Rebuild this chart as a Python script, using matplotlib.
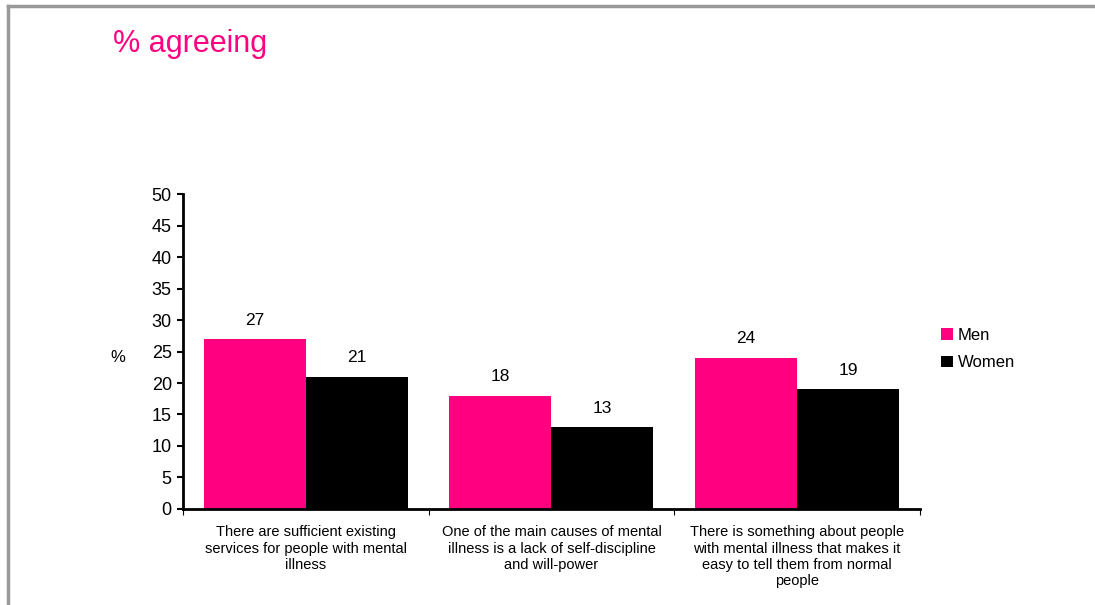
import matplotlib
matplotlib.use("Agg")
import matplotlib.pyplot as plt
from matplotlib.lines import Line2D
from matplotlib.patches import Patch
import numpy as np

plt.rcParams['font.family'] = ['Liberation Sans', 'DejaVu Sans']

categories = [
    "There are sufficient existing\nservices for people with mental\nillness",
    "One of the main causes of mental\nillness is a lack of self-discipline\nand will-power",
    "There is something about people\nwith mental illness that makes it\neasy to tell them from normal\npeople",
]
men = [27, 18, 24]
women = [21, 13, 19]
series_names = ["Men", "Women"]
colors = ["#FF0080", "#000000"]
yticks = list(range(0, 55, 5))

fig = plt.figure(figsize=(10.95, 6.05), dpi=100)
ax = fig.add_axes([0.167, 0.1587, 0.6732, 0.5206])

x = np.arange(len(categories))
w = 0.415
for vals, off, c in [(men, -w / 2, colors[0]), (women, w / 2, colors[1])]:
    bars = ax.bar(x + off, vals, width=w, color=c, edgecolor='none')
    for b, v in zip(bars, vals):
        ax.text(b.get_x() + b.get_width() / 2, v + 1.8, str(v),
                ha='center', va='bottom', fontsize=12.5)

ax.set_xlim(-0.5, len(categories) - 0.5)
ax.set_ylim(0, 50)
ax.set_yticks(yticks)
ax.tick_params(axis='y', labelsize=13, length=4, width=1.5, direction='out', pad=4)
ax.set_xticks(np.arange(len(categories) + 1) - 0.5)
ax.set_xticklabels([])
ax.tick_params(axis='x', length=4, width=0.8, direction='out')
for s in ['top', 'right']:
    ax.spines[s].set_visible(False)
ax.spines['left'].set_linewidth(2)
ax.spines['bottom'].set_linewidth(2)

for i, lab in enumerate(categories):
    ax.text(i, -2.6, lab, ha='center', va='top', fontsize=10.5,
            linespacing=1.2)

ax.text(-0.765, 24.1, "%", ha='center', va='center', fontsize=12)

handles = [Patch(facecolor=c, edgecolor='none') for c in colors]
fig.legend(handles, series_names, loc='upper left',
           bbox_to_anchor=(0.846, 0.483), frameon=False, fontsize=12,
           handlelength=0.7, handleheight=0.7, handletextpad=0.3,
           labelspacing=0.75)

fig.text(0.103, 0.914, "% agreeing", color="#FF0080", fontsize=22,
         ha='left', va='baseline')

# grey frame of the slide
fig.add_artist(Line2D([8 / 1095, 8 / 1095], [0, 1 - 6 / 605],
                      color='#999999', lw=2.5, transform=fig.transFigure))
fig.add_artist(Line2D([8 / 1095, 1], [1 - 6 / 605, 1 - 6 / 605],
                      color='#999999', lw=2.5, transform=fig.transFigure))

fig.savefig("out.png", dpi=100)
